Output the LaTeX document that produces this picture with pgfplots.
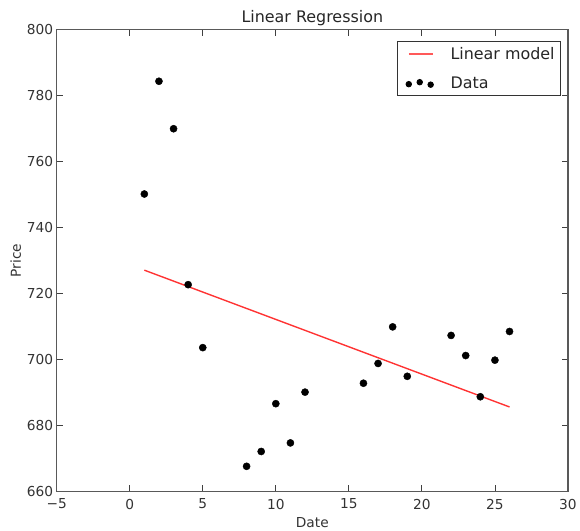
\documentclass[border=0pt]{standalone}
\usepackage{pgfplots}
\pgfplotsset{compat=1.18}
\usepackage{fontspec}
\setmainfont{DejaVu Sans}
\newcommand{\ff}{\fontsize{13.8}{16}\selectfont}
\newcommand{\fl}{\fontsize{16}{19}\selectfont}
\begin{document}
\begin{tikzpicture}
\begin{axis}[
  scale only axis,
  width=514pt, height=464pt,
  xmin=-5, xmax=30, ymin=660, ymax=800,
  xtick={-5,0,5,10,15,20,25,30},
  xticklabels={−5,0,5,10,15,20,25,30},
  ytick={660,680,700,720,740,760,780,800},
  tick align=inside,
  major tick length=6pt,
  tick style={black!75, line width=0.8pt},
  axis line style={black!65, line width=1.3pt},
  /pgf/number format/assume math mode=true,
  tick label style={font=\ff, text=black!80},
  xticklabel style={yshift=-4pt},
  title={Linear Regression},
  title style={font=\fl, yshift=-5pt, text=black!85},
  xlabel={Date}, ylabel={Price},
  xlabel style={font=\ff, yshift=-1pt, text=black!80},
  ylabel style={font=\ff, yshift=-1pt, text=black!80},
  legend cell align=left,
  legend style={at={(1,1)}, anchor=north east, xshift=-7pt, yshift=-11pt,
    draw=black!80, line width=0.8pt, font=\fl, text=black!85,
    inner sep=4pt, row sep=12pt},
]
\addplot[red!80!white, line width=1.4pt,
  legend image code/.code={\draw[red!65!white, line width=1.4pt] (7pt,0pt) -- (31pt,0pt); \path[draw=none] (0pt,0pt) -- (47pt,0pt);}]
  coordinates {(1,727.1) (26,685.6)};
\addlegendentry{Linear model}
\addplot[only marks, mark=*, mark size=3.6pt, black,
  legend image code/.code={
    \fill[black] (7pt,-1pt) circle (2.8pt);
    \fill[black] (18pt,1pt) circle (2.8pt);
    \fill[black] (29pt,-1.5pt) circle (2.8pt);
    \path[draw=none] (0pt,0pt) -- (45pt,0pt);}]
  coordinates {
    (1,750.2) (2,784.4) (3,770.0) (4,722.7) (5,703.6)
    (8,667.6) (9,672.1) (10,686.6) (11,674.7) (12,690.1)
    (16,692.8) (17,698.8) (18,709.9) (19,694.9)
    (22,707.3) (23,701.2) (24,688.7) (25,699.8) (26,708.5)
  };
\addlegendentry{Data}
\end{axis}
\path[draw=none] ([xshift=-57pt,yshift=-39pt]current axis.south west) rectangle ([xshift=9pt,yshift=30pt]current axis.north east);
\end{tikzpicture}
\end{document}
